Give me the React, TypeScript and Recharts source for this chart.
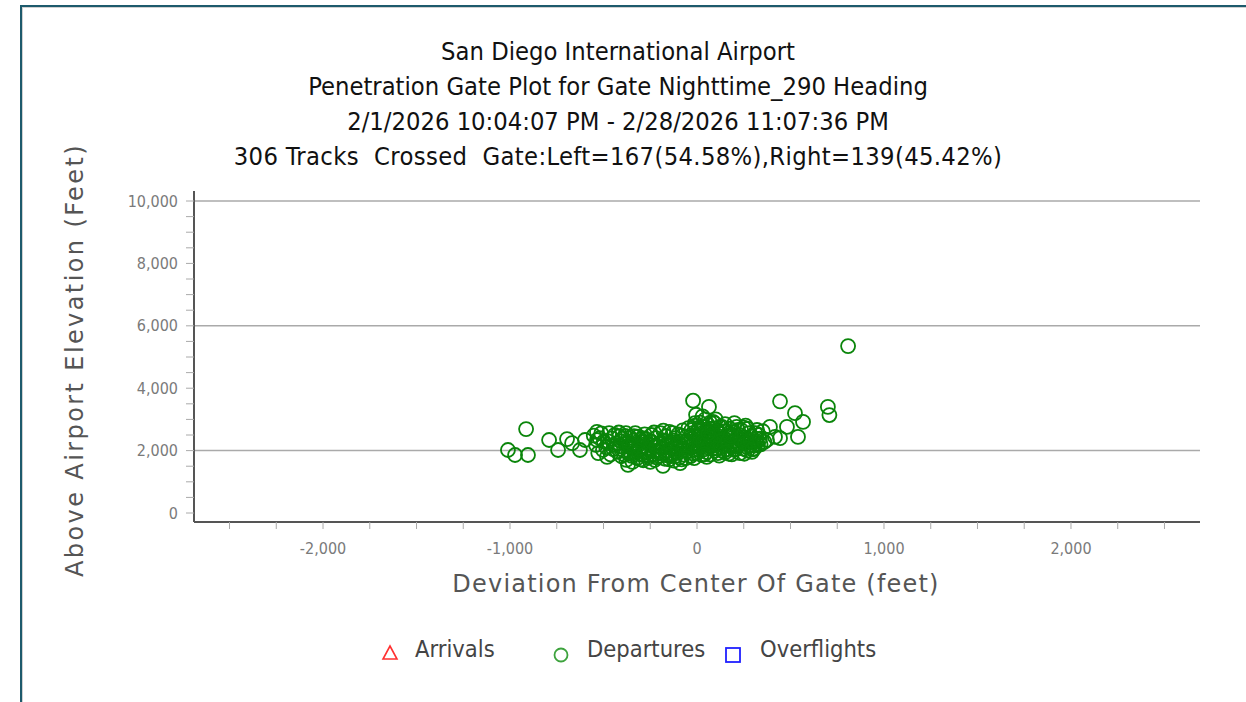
import React from 'react';
import { ReferenceLine, Scatter, ScatterChart, XAxis, YAxis } from 'recharts';

const FONT = "'DejaVu Sans Condensed', 'DejaVu Sans', sans-serif";
const WIDE = "'DejaVu Sans', Verdana, sans-serif";

const titleLines = [
  'San Diego International Airport',
  'Penetration Gate Plot for Gate Nighttime_290 Heading',
  '2/1/2026 10:04:07 PM - 2/28/2026 11:07:36 PM',
  '306 Tracks  Crossed  Gate:Left=167(54.58%),Right=139(45.42%)',
];

const xTicks = [
  -2500, -2250, -2000, -1750, -1500, -1250, -1000, -750, -500, -250, 0,
  250, 500, 750, 1000, 1250, 1500, 1750, 2000, 2250, 2500,
];
const yTicks = [
  0, 500, 1000, 1500, 2000, 2500, 3000, 3500, 4000, 4500, 5000,
  5500, 6000, 6500, 7000, 7500, 8000, 8500, 9000, 9500, 10000,
];
const gridValues = [2000, 6000, 10000];

// departures: [deviation ft, elevation ft]
const departures: [number, number][] = [
  [808, 5350], [700, 3400], [708, 3140], [444, 3580], [524, 3200], [567, 2920],
  [481, 2760], [540, 2440], [444, 2400], [390, 2760], [417, 2440], [374, 2340],
  [321, 2660], [326, 2180], [294, 1960], [267, 2110], [230, 1920], [-21, 3600],
  [64, 3400], [-11, 2880], [86, 2920],
  [-914, 2690], [-1011, 2020], [-973, 1860], [-904, 1860], [-791, 2340], [-743, 2020],
  [-695, 2370], [-668, 2240], [-626, 2020], [-599, 2340], [-535, 2600], [-535, 2340],
  [-503, 2020], [-481, 1800],
  [-369, 1540], [-182, 1510], [-90, 1600],
  [-552, 2480], [-540, 2180], [-528, 1920], [-512, 2550], [-498, 2290], [-486, 2110],
  [-470, 2560], [-462, 1880], [-455, 2390], [-448, 2050], [-440, 2500], [-432, 2230],
  [-425, 1960], [-418, 2580], [-410, 2140], [-404, 1820], [-398, 2380],
  [-392, 2010], [-385, 2470], [-378, 1700], [-372, 2260], [-366, 1900], [-358, 2420],
  [-352, 2080], [-345, 1640], [-340, 2330], [-334, 1960], [-326, 2190], [-320, 1760],
  [-314, 2450], [-308, 2040], [-300, 1870], [-295, 2280], [-288, 1690], [-282, 2150],
  [-276, 2380], [-270, 1950], [-263, 2060], [-257, 1780], [-250, 2300], [-244, 2500],
  [-238, 1880], [-232, 2120], [-226, 1700], [-220, 2400], [-214, 2000], [-207, 2220],
  [-202, 1820],
  [-196, 2560], [-190, 2090], [-184, 1900], [-178, 2330], [-172, 1740], [-166, 2460],
  [-160, 2180], [-154, 1990], [-148, 2600], [-142, 1820], [-136, 2270], [-130, 2050],
  [-124, 1680], [-118, 2400], [-112, 2140], [-106, 1930], [-100, 2520], [-94, 1780],
  [-88, 2300], [-82, 2080], [-76, 2650], [-70, 1870], [-64, 2200], [-58, 2440],
  [-52, 1990], [-46, 2720], [-40, 2110], [-34, 1820], [-28, 2380], [-22, 2560],
  [-16, 2020], [-10, 2800], [-5, 2240],
  [0, 1920], [4, 2460], [8, 2660], [12, 2100], [16, 2900], [20, 2300], [24, 1860],
  [28, 2560], [32, 2760], [36, 2040], [40, 2400], [44, 3000], [48, 2200], [52, 1950],
  [56, 2620], [60, 2820], [64, 2150], [68, 2480], [72, 1880], [76, 2700], [80, 2320],
  [84, 2060], [88, 2560], [92, 2880], [96, 2000], [100, 2420], [104, 2220], [108, 2640],
  [112, 1920], [116, 2360],
  [122, 2540], [128, 2100], [134, 2760], [140, 1980], [146, 2300], [152, 2620],
  [158, 2040], [164, 2460], [170, 1900], [176, 2700], [182, 2200], [188, 2400],
  [194, 2580], [200, 2020], [206, 2320], [212, 2760], [218, 2140], [224, 2500],
  [236, 2660], [242, 2260], [248, 2060], [254, 2420], [260, 2800], [272, 2340],
  [278, 2560], [284, 2160], [290, 2460], [300, 2260], [306, 2060], [312, 2560],
  [318, 2380], [330, 2500], [340, 2200], [352, 2620],
  [-380, 2200], [-343, 2150], [-305, 2350], [-268, 2240], [-235, 1960], [-198, 2230],
  [-162, 1850], [-126, 2330], [-91, 2160], [-55, 2300], [-19, 1900], [14, 2200],
  [46, 2350], [78, 2150], [110, 2260], [142, 2400], [174, 2150], [206, 2050],
  [238, 2350], [270, 2000], [-350, 1830], [-283, 1860], [-216, 1780], [-149, 1720],
  [-82, 1720], [-15, 1760], [52, 1800], [119, 1840], [186, 1880], [253, 1900],
  [-410, 2300], [-380, 2560], [-330, 2560], [-280, 2520], [-230, 2580], [-180, 2640],
  [-130, 2560], [-80, 2480], [-30, 2660], [20, 2620], [70, 2900], [120, 2760],
  [170, 2560], [220, 2660], [270, 2700], [320, 2300], [30, 3100], [-5, 3150],
  [100, 3000], [150, 2850], [200, 2880], [250, 2740],
  [-520, 2400], [-476, 2300], [-444, 2180], [-415, 2460], [-389, 1880], [-361, 2150],
  [-337, 2460], [-311, 1980], [-292, 2400], [-266, 1840], [-241, 2280], [-219, 2130],
  [-193, 1980], [-169, 2290], [-139, 2140], [-114, 1830], [-97, 2240], [-72, 2030],
  [-48, 2250], [-26, 2140], [-8, 2500], [6, 2040], [18, 2380], [34, 2260], [58, 2100],
  [74, 2400], [90, 2240], [106, 2080], [126, 2300], [148, 2160], [166, 2320],
  [192, 2120], [216, 2420], [232, 2200], [258, 2240], [286, 2320], [310, 2160],
  [-60, 1760], [40, 1880], [150, 1940], [-250, 1640], [-300, 1720], [296, 2040],
  [336, 2380], [360, 2280], [-130, 1880], [10, 2720], [60, 2560], [180, 2480],
];
const arrivals: [number, number][] = [];
const overflights: [number, number][] = [];

const toPoints = (rows: [number, number][]) => rows.map(([x, y]) => ({ x, y }));

const fmt = (step: number) => (v: number) =>
  v % step === 0 ? v.toLocaleString('en-US') : '';

const Ring = (props: any) => (
  <circle cx={props.cx} cy={props.cy} r={7} fill="none" stroke="#0a850a" strokeWidth={1.8} />
);

export default function App() {
  return (
    <div
      style={{
        position: 'absolute',
        left: 0,
        top: 0,
        width: 1246,
        height: 702,
        background: '#fff',
        fontFamily: FONT,
        overflow: 'hidden',
      }}
    >
      <div
        style={{
          position: 'absolute',
          left: 20,
          top: 5,
          right: -4,
          bottom: -4,
          borderTop: '2px solid #1d5a6c',
          borderLeft: '2px solid #1d5a6c',
          boxShadow: 'inset 1px 1px 0 #d0d0d0',
        }}
      />
      {titleLines.map((t, i) => (
        <div
          key={i}
          style={{
            position: 'absolute',
            left: 0,
            width: 1236,
            top: 37 + i * 35,
            lineHeight: '30px',
            fontSize: 25.3,
            letterSpacing: i === 3 ? 0.35 : 0,
            textAlign: 'center',
            whiteSpace: 'pre',
            color: '#111',
          }}
        >
          {t}
        </div>
      ))}

      <div style={{ position: 'absolute', left: 0, top: 0 }}>
        <ScatterChart width={1246} height={702} margin={{ top: 191, right: 46, bottom: 150, left: 114 }}>
          <XAxis
            type="number"
            dataKey="x"
            domain={[-2690, 2690]}
            allowDataOverflow
            ticks={xTicks}
            tickFormatter={fmt(1000)}
            interval={0}
            height={30}
            tickSize={7}
            tickMargin={14}
            tick={{ fill: '#7a7a7a', fontSize: 16, fontFamily: FONT }}
            tickLine={{ stroke: '#aaa' }}
            axisLine={{ stroke: '#555', strokeWidth: 2 }}
          />
          <YAxis
            type="number"
            dataKey="y"
            domain={[-288, 10321]}
            allowDataOverflow
            ticks={yTicks}
            tickFormatter={fmt(2000)}
            interval={0}
            width={80}
            tickSize={8}
            tickMargin={8}
            tick={{ fill: '#7a7a7a', fontSize: 16, fontFamily: FONT }}
            tickLine={{ stroke: '#aaa' }}
            axisLine={{ stroke: '#555', strokeWidth: 2 }}
          />
          {gridValues.map((v) => (
            <ReferenceLine key={v} y={v} stroke="#aaa" strokeWidth={1.5} />
          ))}
          <Scatter name="Arrivals" data={toPoints(arrivals)} isAnimationActive={false} />
          <Scatter name="Departures" data={toPoints(departures)} shape={Ring} isAnimationActive={false} />
          <Scatter name="Overflights" data={toPoints(overflights)} isAnimationActive={false} />
        </ScatterChart>
      </div>

      <div
        style={{
          position: 'absolute',
          left: 75,
          top: 360,
          transform: 'translate(-50%, -50%) rotate(-90deg)',
          fontFamily: WIDE,
          fontSize: 24,
          color: '#555',
          whiteSpace: 'nowrap',
          letterSpacing: 2.4,
        }}
      >
        Above Airport Elevation (Feet)
      </div>
      <div
        style={{
          position: 'absolute',
          left: 696,
          top: 584,
          transform: 'translate(-50%, -50%)',
          fontFamily: WIDE,
          fontSize: 24,
          color: '#555',
          whiteSpace: 'nowrap',
          letterSpacing: 1.2,
        }}
      >
        Deviation From Center Of Gate (feet)
      </div>

      <svg style={{ position: 'absolute', left: 0, top: 0 }} width={1246} height={702}>
        <polygon points="383,659 397,659 390,646" fill="none" stroke="#ff3030" strokeWidth={1.6} />
        <circle cx={561} cy={655} r={6.5} fill="none" stroke="#3da33d" strokeWidth={1.8} />
        <rect x={726} y={648} width={14} height={14} fill="none" stroke="#2020ff" strokeWidth={1.8} />
      </svg>
      {[
        { label: 'Arrivals', left: 415 },
        { label: 'Departures', left: 587 },
        { label: 'Overflights', left: 760 },
      ].map((l) => (
        <div
          key={l.label}
          style={{
            position: 'absolute',
            left: l.left,
            top: 634,
            lineHeight: '30px',
            fontSize: 23.5,
            color: '#444',
            whiteSpace: 'nowrap',
          }}
        >
          {l.label}
        </div>
      ))}
    </div>
  );
}
